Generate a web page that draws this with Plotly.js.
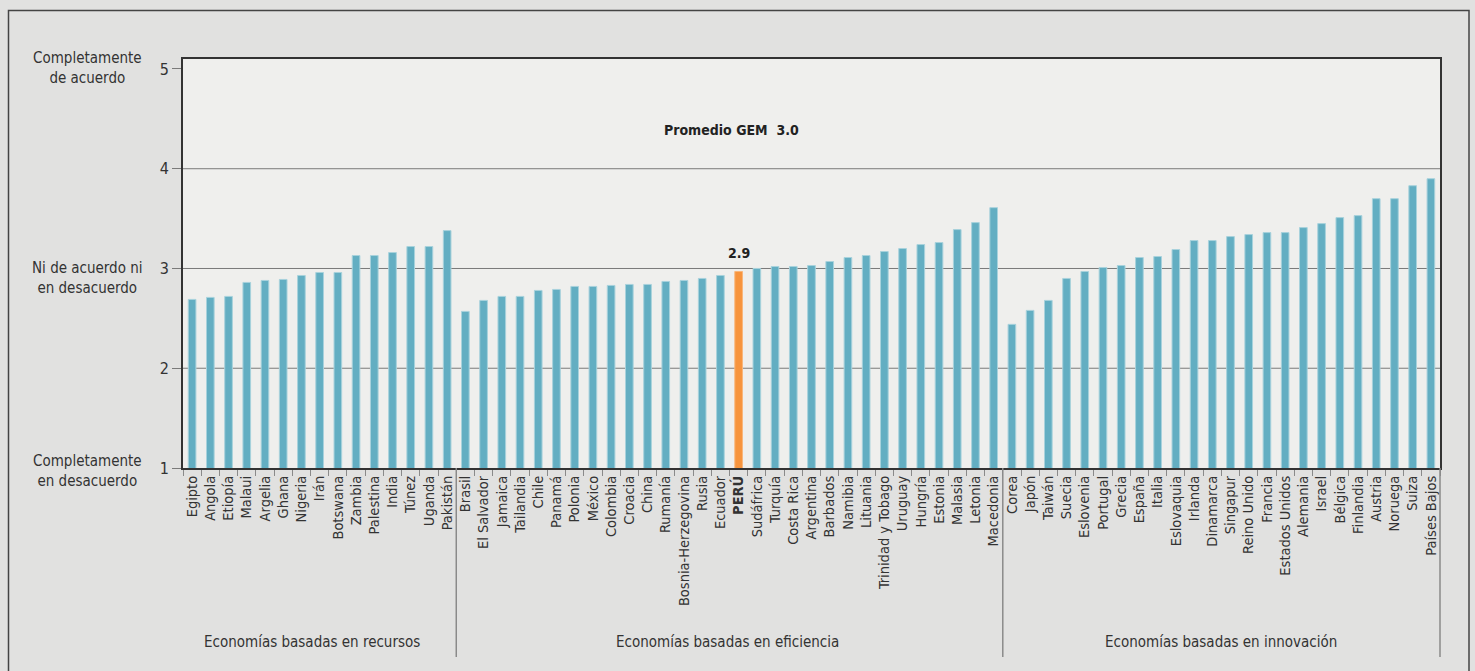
<!DOCTYPE html>
<html>
<head>
<meta charset="utf-8">
<script src="https://cdn.plot.ly/plotly-3.0.1.min.js"></script>
<style>
  html, body { margin: 0; padding: 0; background: #e1e1e0; }
  #chart { width: 1475px; height: 671px; }
</style>
</head>
<body>
<div id="chart"></div>
<script>
// ---- Data ----
const recursos = ["Egipto","Angola","Etiopía","Malaui","Argelia","Ghana","Nigeria","Irán","Botswana","Zambia","Palestina","India","Túnez","Uganda","Pakistán"];
const recursosVals = [2.69,2.71,2.72,2.86,2.88,2.89,2.93,2.96,2.96,3.13,3.13,3.16,3.22,3.22,3.38];

const eficiencia = ["Brasil","El Salvador","Jamaica","Tailandia","Chile","Panamá","Polonia","México","Colombia","Croacia","China","Rumanía","Bosnia-Herzegovina","Rusia","Ecuador","PERÚ","Sudáfrica","Turquía","Costa Rica","Argentina","Barbados","Namibia","Lituania","Trinidad y Tobago","Uruguay","Hungría","Estonia","Malasia","Letonia","Macedonia"];
const eficienciaVals = [2.57,2.68,2.72,2.72,2.78,2.79,2.82,2.82,2.83,2.84,2.84,2.87,2.88,2.90,2.93,2.97,3.00,3.02,3.02,3.03,3.07,3.11,3.13,3.17,3.20,3.24,3.26,3.39,3.46,3.61];

const innovacion = ["Corea","Japón","Taiwán","Suecia","Eslovenia","Portugal","Grecia","España","Italia","Eslovaquia","Irlanda","Dinamarca","Singapur","Reino Unido","Francia","Estados Unidos","Alemania","Israel","Bélgica","Finlandia","Austria","Noruega","Suiza","Países Bajos"];
const innovacionVals = [2.44,2.58,2.68,2.90,2.97,3.01,3.03,3.11,3.12,3.19,3.28,3.28,3.32,3.34,3.36,3.36,3.41,3.45,3.51,3.53,3.70,3.70,3.83,3.90];

const groupNames = ["Economías basadas en recursos","Economías basadas en eficiencia","Economías basadas en innovación"];
const highlight = "PERÚ";
const highlightLabel = "2.9";
const averageLabel = "Promedio GEM  3.0";
const yTickVals = [1,2,3,4,5];
const yScaleLabels = ["Completamente<br>de acuerdo","Ni de acuerdo ni<br>en desacuerdo","Completamente<br>en desacuerdo"];
const yScaleAt = [5,3,1];

// ---- Build ----
const cats = recursos.concat(eficiencia, innovacion);
const vals = recursosVals.concat(eficienciaVals, innovacionVals);
const colors = cats.map(c => c === highlight ? "#f7943d" : "#63aec2");
const lineColors = cats.map(c => c === highlight ? "#f9b57a" : "#a8d2dc");
const tickText = cats.map(c => c === highlight ? "<b>" + c + "</b>" : c);

const FONT = "'Liberation Sans Narrow', 'Arial Narrow', 'DejaVu Sans Condensed', 'Open Sans', sans-serif";

const L = 183, R = 1440, T = 59, B = 468;
const W = R - L, H = B - T;
const px = x => (x - L) / W;
const py = y => (B - y) / H;

const trace = {
  type: "bar",
  x: cats,
  y: vals,
  base: 0,
  width: 0.42,
  marker: { color: colors, line: { color: lineColors, width: 1 } },
  hoverinfo: "x+y"
};

const n1 = recursos.length, n2 = eficiencia.length, n3 = innovacion.length;
const sepIdx = [n1 - 0.5, n1 + n2 - 0.5];

const shapes = [];
// grid lines
[2,3,4].forEach(v => shapes.push({
  type: "line", xref: "paper", yref: "y", x0: 0, x1: 1, y0: v, y1: v,
  line: { color: "#7a7a7a", width: 1 }, layer: "below"
}));
// group separators
sepIdx.forEach(s => shapes.push({
  type: "line", xref: "x", yref: "paper", x0: s, x1: s, y0: 0, y1: py(657),
  line: { color: "#8a8a8a", width: 1.5 }
}));
shapes.push({
  type: "line", xref: "paper", yref: "paper", x0: 1, x1: 1, y0: 0, y1: py(657),
  line: { color: "#8a8a8a", width: 1.5 }
});
// outer frame
shapes.push({
  type: "rect", xref: "paper", yref: "paper",
  x0: px(8.5), x1: px(1469), y0: py(700), y1: py(10.5),
  line: { color: "#444", width: 1.5 }, fillcolor: "rgba(0,0,0,0)"
});

const annotations = [];
// group labels
const groupCenters = [
  (n1 - 1) / 2,
  n1 + (n2 - 1) / 2,
  n1 + n2 + (n3 - 1) / 2
];
const groupXShift = [-8, -2, 0];
groupNames.forEach((g, i) => annotations.push({
  xref: "x", yref: "paper", x: groupCenters[i], y: py(642), xshift: groupXShift[i],
  text: g, showarrow: false, xanchor: "center", yanchor: "middle",
  font: { family: FONT, size: 15, color: "#333" }
}));
// highlight label
annotations.push({
  xref: "x", yref: "y", x: highlight, y: vals[cats.indexOf(highlight)],
  text: "<b>" + highlightLabel + "</b>", showarrow: false, yanchor: "bottom", yshift: 8,
  font: { family: FONT, size: 14, color: "#222" }
});
// average label
annotations.push({
  xref: "paper", yref: "paper", x: px(731), y: py(130),
  text: "<b>" + averageLabel + "</b>", showarrow: false, xanchor: "center", yanchor: "middle",
  font: { family: FONT, size: 14, color: "#222" }
});
// y scale descriptive labels
const yScaleShift = [1, -10, -3];
yScaleLabels.forEach((t, i) => annotations.push({
  xref: "paper", yref: "y", x: px(87), y: yScaleAt[i], yshift: yScaleShift[i],
  text: t, showarrow: false, xanchor: "center", yanchor: "middle", align: "center",
  font: { family: FONT, size: 15, color: "#333" }
}));

const layout = {
  width: 1475, height: 671,
  margin: { l: L, r: 1475 - R, t: T, b: 671 - B, pad: 0 },
  paper_bgcolor: "#e1e1e0",
  plot_bgcolor: "#efefed",
  showlegend: false,
  bargap: 0.5,
  xaxis: {
    type: "category",
    range: [-0.5, cats.length - 0.5],
    tickmode: "array", tickvals: cats, ticktext: tickText,
    tickangle: -90,
    tickson: "boundaries",
    ticks: "outside", ticklen: 6, tickcolor: "#8a8a8a", tickwidth: 1,
    showline: true, linecolor: "#333", linewidth: 2, mirror: true,
    showgrid: false, zeroline: false,
    tickfont: { family: FONT, size: 14.5, color: "#333" },
    fixedrange: true
  },
  yaxis: {
    range: [1, 5.1],
    tickmode: "array", tickvals: yTickVals, ticktext: yTickVals.map(String),
    ticks: "outside", ticklen: 9, tickcolor: "#7a7a7a", tickwidth: 1,
    showline: true, linecolor: "#333", linewidth: 2, mirror: true,
    showgrid: false, zeroline: false,
    tickfont: { family: FONT, size: 16, color: "#333" },
    fixedrange: true
  },
  shapes: shapes,
  annotations: annotations
};

Plotly.newPlot("chart", [trace], layout, { displayModeBar: false, staticPlot: true });
</script>
</body>
</html>
